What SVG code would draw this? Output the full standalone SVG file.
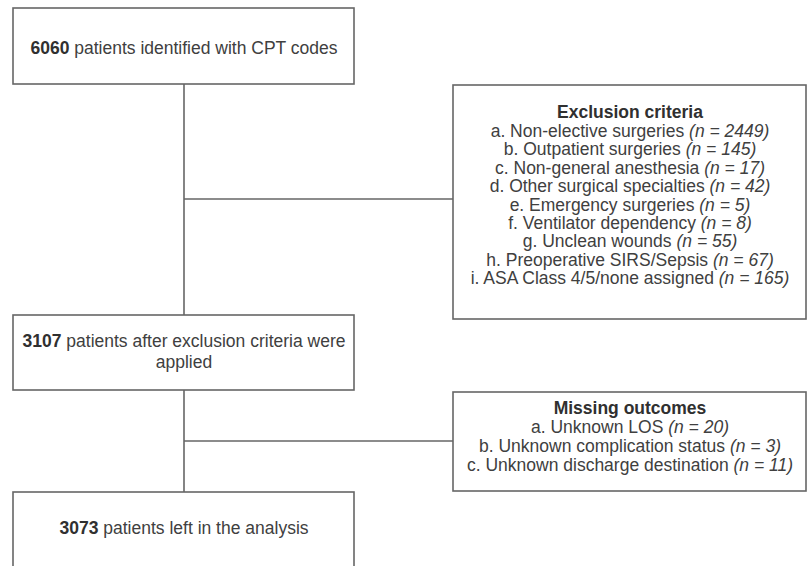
<svg xmlns="http://www.w3.org/2000/svg" width="809" height="566" viewBox="0 0 809 566">
  <style>
    .box { fill: #ffffff; stroke: #666666; stroke-width: 1.6; }
    .wire { fill: none; stroke: #666666; stroke-width: 1.6; }
    text { font-family: "Liberation Sans", Arial, sans-serif; font-size: 17.5px; fill: #404040; text-anchor: middle; }
    .b { font-weight: bold; fill: #303030; }
    .i { font-style: italic; }
  </style>
  <rect width="809" height="566" fill="#ffffff"/>

  <g id="connectors">
    <line class="wire" x1="184" y1="84" x2="184" y2="315"/>
    <line class="wire" x1="184" y1="199" x2="453" y2="199"/>
    <line class="wire" x1="184" y1="390" x2="184" y2="492"/>
    <line class="wire" x1="184" y1="441" x2="453" y2="441"/>
  </g>

  <g id="identified">
    <rect class="box" x="13" y="8" width="341" height="76"/>
    <text x="184" y="53.5"><tspan class="b">6060</tspan> patients identified with CPT codes</text>
  </g>

  <g id="exclusion">
    <rect class="box" x="453" y="85" width="353" height="234"/>
    <text x="630" y="118" class="b">Exclusion criteria</text>
    <text x="630" y="137">a. Non-elective surgeries <tspan class="i">(n = 2449)</tspan></text>
    <text x="630" y="155.4">b. Outpatient surgeries <tspan class="i">(n = 145)</tspan></text>
    <text x="630" y="173.8">c. Non-general anesthesia <tspan class="i">(n = 17)</tspan></text>
    <text x="630" y="192.2">d. Other surgical specialties <tspan class="i">(n = 42)</tspan></text>
    <text x="630" y="210.6">e. Emergency surgeries <tspan class="i">(n = 5)</tspan></text>
    <text x="630" y="229">f. Ventilator dependency <tspan class="i">(n = 8)</tspan></text>
    <text x="630" y="247.4">g. Unclean wounds <tspan class="i">(n = 55)</tspan></text>
    <text x="630" y="265.8">h. Preoperative SIRS/Sepsis <tspan class="i">(n = 67)</tspan></text>
    <text x="630" y="284.2">i. ASA Class 4/5/none assigned <tspan class="i">(n = 165)</tspan></text>
  </g>

  <g id="after-exclusion">
    <rect class="box" x="13" y="315" width="341" height="75"/>
    <text x="184" y="347"><tspan class="b">3107</tspan> patients after exclusion criteria were</text>
    <text x="184" y="368">applied</text>
  </g>

  <g id="missing">
    <rect class="box" x="453" y="392" width="353" height="99"/>
    <text x="630" y="414" class="b">Missing outcomes</text>
    <text x="630" y="433">a. Unknown LOS <tspan class="i">(n = 20)</tspan></text>
    <text x="630" y="452">b. Unknown complication status <tspan class="i">(n = 3)</tspan></text>
    <text x="630" y="471">c. Unknown discharge destination <tspan class="i">(n = 11)</tspan></text>
  </g>

  <g id="analysis">
    <rect class="box" x="13" y="492" width="341" height="80"/>
    <text x="184" y="534"><tspan class="b">3073</tspan> patients left in the analysis</text>
  </g>
</svg>
